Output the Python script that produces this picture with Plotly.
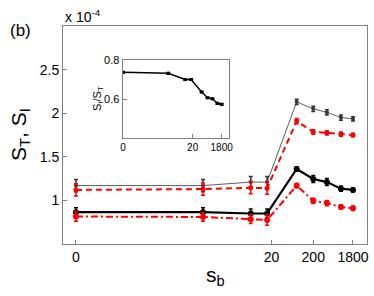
import plotly.graph_objects as go

# s_b positions (first entry is the "0" placeholder on the log axis)
s_b = [0.0004, 0.45, 6.3, 15.6, 80, 200, 425, 925, 1800]
x_tickvals = [0.0004, 20, 200, 1800]
x_ticktext = ["0", "20", "200", "1800"]
inset_tickvals = [0.0004, 20, 1800]
inset_ticktext = ["0", "20", "1800"]
y_tickvals = [1, 1.5, 2, 2.5]
y_ticktext = ["1", "1.5", "2", "2.5"]
inset_y_tickvals = [0.6, 0.8]
inset_y_ticktext = ["0.6", "0.8"]

S_T = [1.17, 1.17, 1.21, 1.21, 2.13, 2.05, 2.01, 1.95, 1.935]
S_T_err = [0.07, 0.07, 0.065, 0.065, 0.03, 0.03, 0.03, 0.03, 0.025]
S_T_red = [1.12, 1.13, 1.145, 1.14, 1.91, 1.785, 1.775, 1.76, 1.75]
S_T_red_err = [0.07, 0.07, 0.07, 0.07, 0.03, 0.025, 0.025, 0.025, 0.02]
S_I = [0.865, 0.865, 0.85, 0.85, 1.36, 1.245, 1.21, 1.135, 1.12]
S_I_err = [0.05, 0.05, 0.05, 0.05, 0.025, 0.04, 0.04, 0.03, 0.025]
S_I_red = [0.815, 0.81, 0.785, 0.775, 1.17, 0.995, 0.97, 0.925, 0.91]
S_I_red_err = [0.055, 0.05, 0.05, 0.06, 0.025, 0.03, 0.03, 0.025, 0.025]
ratio = [0.737, 0.732, 0.701, 0.701, 0.637, 0.608, 0.603, 0.579, 0.574]
ratio_err = [0.004] * 9

FONT = "Liberation Sans, Arial, Helvetica, sans-serif"

fig = go.Figure()

def add(y, err, color, width, dash, msize, xa="x", ya="y"):
    fig.add_trace(go.Scatter(
        x=s_b, y=y, mode="lines+markers", xaxis=xa, yaxis=ya,
        line=dict(color=color, width=width, dash=dash),
        marker=dict(color=color, size=msize),
        error_y=dict(type="data", array=err, visible=True, color=color,
                     thickness=1.5, width=2),
        showlegend=False, hoverinfo="skip"))

add(S_T, S_T_err, "#333333", 0.8, "solid", 4)
add(S_T_red, S_T_red_err, "#ff0000", 2, "6px,4px", 5)
add(S_I, S_I_err, "#000000", 2.2, "solid", 6)
add(S_I_red, S_I_red_err, "#ff0000", 2, "7px,3px,2px,3px", 6)
add(ratio, ratio_err, "#000000", 1.5, "solid", 3, "x2", "y2")

axcommon = dict(showgrid=False, zeroline=False, showline=True, linecolor="#808080",
                linewidth=1, mirror=True, ticks="inside", tickcolor="#808080",
                ticklen=4, automargin=False)

fig.update_layout(
    width=374, height=296,
    margin=dict(l=63, r=7, t=26, b=52),
    paper_bgcolor="white", plot_bgcolor="white",
    font=dict(family=FONT, color="black"),
    xaxis=dict(type="log", range=[-3.709, 3.592], tickvals=x_tickvals,
               ticktext=x_ticktext, tickfont=dict(size=14),
               ticklabeloverflow="allow", **axcommon),
    yaxis=dict(range=[0.5, 3.0], tickvals=y_tickvals, ticktext=y_ticktext,
               tickfont=dict(size=14), **axcommon),
    xaxis2=dict(type="log", range=[-3.42, 3.747], domain=[0.196, 0.546],
                anchor="y2", tickvals=inset_tickvals, ticktext=inset_ticktext,
                tickfont=dict(size=10), ticklabeloverflow="allow", **axcommon),
    yaxis2=dict(range=[0.4, 0.8], domain=[0.484, 0.844], anchor="x2",
                tickvals=inset_y_tickvals, ticktext=inset_y_ticktext,
                tickfont=dict(size=11), **axcommon),
    annotations=[
        dict(text="(b)", x=21, y=30, showarrow=False,
             font=dict(size=17), xanchor="center", yanchor="middle"),
        dict(text="x 10<sup>-4</sup>", x=63, y=16, showarrow=False,
             font=dict(size=14), xanchor="left", yanchor="middle"),
        dict(text="S<sub>T</sub>, S<sub>I</sub>", x=20, y=135, showarrow=False,
             font=dict(size=21), textangle=-90, xanchor="center", yanchor="middle"),
        dict(text="s<sub>b</sub>", x=215, y=276, showarrow=False,
             font=dict(size=21), xanchor="center", yanchor="middle"),
        dict(text="S<sub>I</sub>/S<sub>T</sub>", x=98, y=99, showarrow=False,
             font=dict(size=11), textangle=-90, xanchor="center", yanchor="middle"),
    ],
)

# convert pixel-placed annotations into paper coordinates
W, H = 374, 296
l, r, t, b = 63, 7, 26, 52
pw, ph = W - l - r, H - t - b
new_ann = []
for a in fig.layout.annotations:
    a = a.to_plotly_json()
    a["xref"] = "paper"; a["yref"] = "paper"
    a["x"] = (a["x"] - l) / pw
    a["y"] = (H - b - a["y"]) / ph
    new_ann.append(a)
fig.layout.annotations = new_ann

fig.write_html("out.html", config={"displayModeBar": False},
               post_script="document.body.style.margin='0';document.body.style.padding='0';")
